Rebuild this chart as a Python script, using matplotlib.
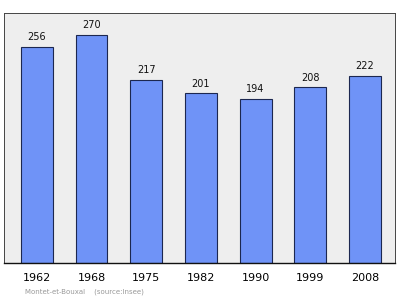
import matplotlib.pyplot as plt

years = ["1962", "1968", "1975", "1982", "1990", "1999", "2008"]
population = [256, 270, 217, 201, 194, 208, 222]

fig = plt.figure(figsize=(4, 2.99), dpi=100)
ax = fig.add_axes([0.01, 0.119, 0.9775, 0.8375])
ax.set_facecolor("#eeeeee")

x = range(len(years))
bars = ax.bar(x, population, width=0.585, color="#6f93f7",
              edgecolor="#1c2750", linewidth=0.8)

for xi, v in zip(x, population):
    ax.annotate(str(v), (xi, v), xytext=(0, 3.5), textcoords="offset points",
                ha="center", va="bottom", fontsize=7, color="#111111")

ax.set_xlim(-0.6, 6.55)
ax.set_ylim(0, 296)
ax.set_xticks(list(x))
ax.set_xticklabels(years, fontsize=8)
ax.tick_params(axis="x", length=0, pad=7)
ax.set_yticks([])
for s in ["left", "top", "right"]:
    ax.spines[s].set_color("#444444")
    ax.spines[s].set_linewidth(0.7)
ax.spines["bottom"].set_color("#111111")
ax.spines["bottom"].set_linewidth(1.0)

fig.text(0.0625, 0.02, "Montet-et-Bouxal    (source:Insee)", fontsize=5,
         color="#999999")

fig.savefig("out.png", dpi=100)
